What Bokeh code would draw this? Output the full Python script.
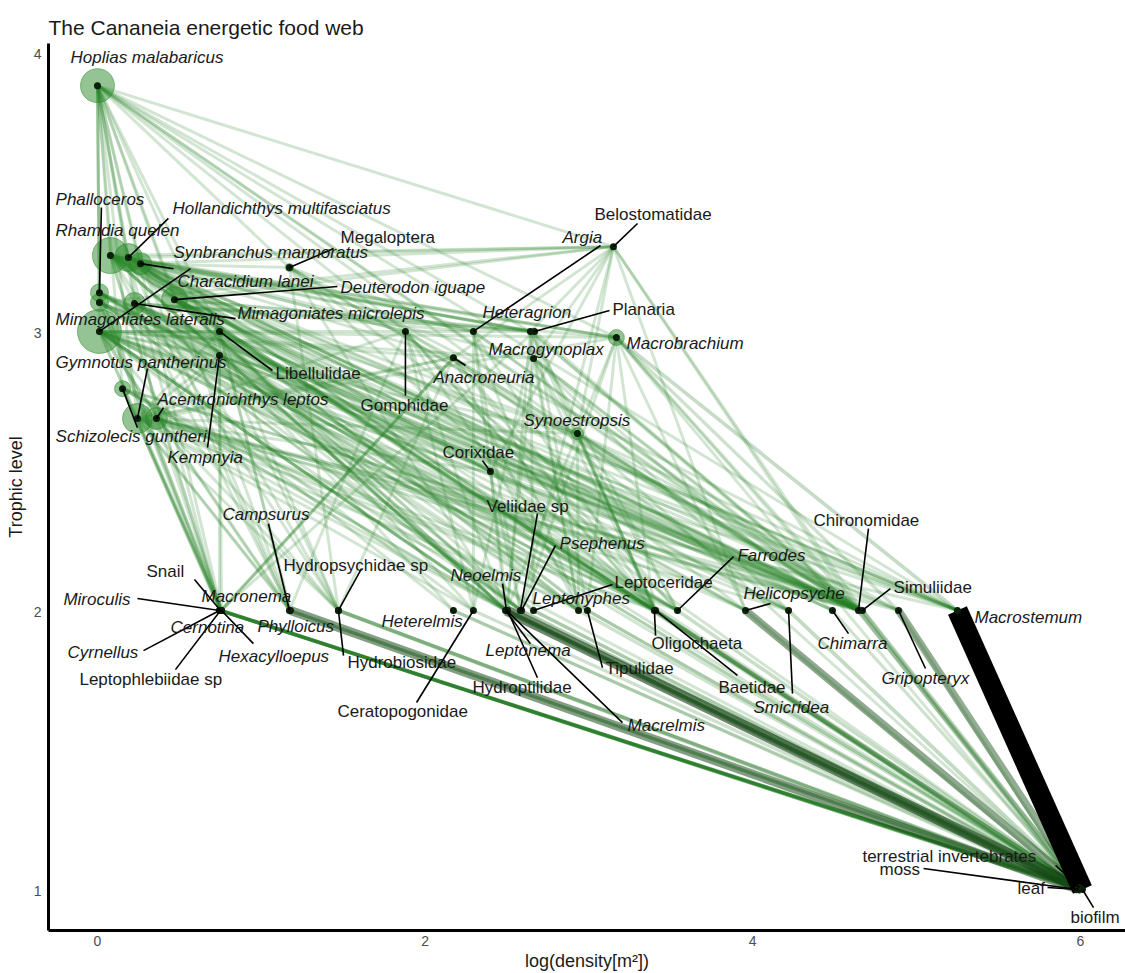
import numpy as np
from bokeh.plotting import figure
from bokeh.models import ColumnDataSource, FixedTicker
from bokeh.core.properties import value
from bokeh.embed import file_html
from bokeh.resources import INLINE

# ---------------- nodes ----------------
node_names = [
    "Hoplias malabaricus", "Rhamdia quelen", "Hollandichthys multifasciatus", "Synbranchus marmoratus",
    "Phalloceros", "Mimagoniates lateralis", "Mimagoniates microlepis", "Deuterodon iguape",
    "Characidium lanei", "Gymnotus pantherinus", "Schizolecis guntheri", "Acentronichthys leptos",
    "Megaloptera", "Libellulidae", "Kempnyia", "Gomphidae", "Belostomatidae", "Argia", "Heteragrion",
    "Planaria", "Macrobrachium", "Anacroneuria", "Macrogynoplax", "Synoestropsis", "Corixidae",
    "Snail", "Miroculis", "Macronema", "Cernotina", "Cyrnellus", "Hexacylloepus", "Leptophlebiidae sp",
    "Campsurus", "Phylloicus", "Hydropsychidae sp", "Hydrobiosidae", "Heterelmis", "Ceratopogonidae",
    "Veliidae sp", "Psephenus", "Neoelmis", "Leptoceridae", "Leptohyphes", "Leptonema", "Hydroptilidae",
    "Macrelmis", "Tipulidae", "Farrodes", "Oligochaeta", "Baetidae", "Helicopsyche", "Smicridea",
    "Chironomidae", "Simuliidae", "Chimarra", "Gripopteryx", "Macrostemum",
    "terrestrial invertebrates", "moss", "leaf", "biofilm",
]
# log(density[m2])
node_x = [
    0.000, 0.079, 0.189, 0.263, 0.012, 0.012, 0.226, 0.470, 0.012, 0.244, 0.153, 0.360,
    1.172, 0.745, 0.745, 1.880, 3.150, 2.295, 2.643, 2.668, 3.168, 2.173, 2.662, 2.930, 2.399,
    0.751, 0.745, 0.757, 0.751, 0.745, 0.757, 0.751,
    1.172, 1.178, 1.471, 1.471, 2.173, 2.295, 2.582, 2.589, 2.497, 2.662, 2.937, 2.491, 2.503,
    2.497, 2.991, 3.541, 3.400, 3.407, 3.956, 4.219, 4.646, 4.670, 4.487, 4.890, 5.250,
    5.995, 5.983, 5.989, 6.013,
]
# trophic level
node_y = [
    3.885, 3.276, 3.269, 3.247, 3.143, 3.108, 3.104, 3.118, 3.004, 2.692, 2.799, 2.692,
    3.233, 3.004, 2.918, 3.004, 3.308, 3.004, 3.004, 3.004, 2.982, 2.910, 2.907, 2.638, 2.502,
    2.004, 2.004, 2.004, 2.004, 2.004, 2.004, 2.004,
    2.004, 2.004, 2.004, 2.004, 2.004, 2.004, 2.004, 2.004, 2.004, 2.004, 2.004, 2.004, 2.004,
    2.004, 2.004, 2.004, 2.004, 2.004, 2.004, 2.004, 2.004, 2.004, 2.004, 2.004, 2.004,
    1.011, 1.004, 1.004, 1.004,
]
# relative biomass (circle area)
node_biomass = [
    2.89, 3.24, 1.96, 1.21, 0.81, 0.81, 1.21, 1.69, 4.84, 2.25, 0.64, 1.21,
    0.16, 0.25, 0.09, 0.04, 0.04, 0.04, 0.04, 0.04, 0.64, 0.09, 0.09, 0.36, 0.04,
    0.09, 0.06, 0.09, 0.04, 0.04, 0.04, 0.06,
    0.06, 0.06, 0.06, 0.04, 0.02, 0.02, 0.04, 0.04, 0.06, 0.02, 0.02, 0.06, 0.04,
    0.04, 0.02, 0.02, 0.04, 0.04, 0.02, 0.02, 0.04, 0.04, 0.02, 0.02, 0.06,
    0.04, 0.04, 0.06, 0.06,
]

# ---------------- labels (repelled positions) ----------------
label_text = [
    "Hoplias  malabaricus", "Rhamdia  quelen", "Hollandichthys  multifasciatus", "Synbranchus  marmoratus",
    "Phalloceros", "Mimagoniates  lateralis", "Mimagoniates  microlepis", "Deuterodon  iguape",
    "Characidium  lanei", "Gymnotus  pantherinus", "Schizolecis  guntheri", "Acentronichthys  leptos",
    "Megaloptera", "Libellulidae", "Kempnyia", "Gomphidae", "Belostomatidae", "Argia", "Heteragrion",
    "Planaria", "Macrobrachium", "Anacroneuria", "Macrogynoplax", "Synoestropsis", "Corixidae",
    "Snail", "Miroculis", "Macronema", "Cernotina", "Cyrnellus", "Hexacylloepus", "Leptophlebiidae  sp",
    "Campsurus", "Phylloicus", "Hydropsychidae  sp", "Hydrobiosidae", "Heterelmis", "Ceratopogonidae",
    "Veliidae  sp", "Psephenus", "Neoelmis", "Leptoceridae", "Leptohyphes", "Leptonema", "Hydroptilidae",
    "Macrelmis", "Tipulidae", "Farrodes", "Oligochaeta", "Baetidae", "Helicopsyche", "Smicridea",
    "Chironomidae", "Simuliidae", "Chimarra", "Gripopteryx", "Macrostemum",
    "terrestrial  invertebrates", "moss", "leaf", "biofilm",
]
label_italic = [
    1, 1, 1, 1, 1, 1, 1, 1, 1, 1, 1, 1,
    0, 0, 1, 0, 0, 1, 1, 0, 1, 1, 1, 1, 0,
    0, 1, 1, 1, 1, 1, 0,
    1, 1, 0, 0, 1, 0, 0, 1, 1, 0, 1, 1, 0,
    1, 0, 1, 0, 0, 1, 1, 0, 0, 1, 1, 1,
    0, 0, 0, 0,
]
label_x = [
    -0.165, -0.256, 0.458, 0.464, -0.256, -0.256, 0.855, 1.484, 0.488, -0.256, -0.256, 0.366,
    1.484, 1.087, 0.427, 1.606, 3.034, 2.839, 2.350, 3.144, 3.230, 2.051, 2.387, 2.601, 2.106,
    0.299, -0.208, 0.635, 0.446, -0.183, 0.739, -0.110,
    0.763, 0.977, 1.136, 1.526, 1.734, 1.465, 2.375, 2.821, 2.155, 3.156, 2.656, 2.369, 2.289,
    3.236, 3.101, 3.907, 3.382, 3.791, 3.944, 4.005, 4.371, 4.860, 4.396, 4.786, 5.354,
    4.670, 4.774, 5.617, 5.940,
]
label_y = [
    3.986, 3.366, 3.444, 3.287, 3.477, 3.047, 3.068, 3.161, 3.183, 2.892, 2.627, 2.760,
    3.341, 2.853, 2.552, 2.738, 3.423, 3.341, 3.072, 3.082, 2.961, 2.839, 2.939, 2.685, 2.570,
    2.143, 2.043, 2.054, 1.943, 1.853, 1.839, 1.756,
    2.348, 1.946, 2.165, 1.817, 1.964, 1.642, 2.376, 2.244, 2.129, 2.104, 2.047, 1.860, 1.728,
    1.591, 1.796, 2.201, 1.885, 1.728, 2.065, 1.656, 2.326, 2.086, 1.885, 1.760, 1.978,
    1.122, 1.075, 1.007, 0.903,
]
N = None
leader_x = [
    N, N, 0.433, 0.464, 0.024, N, 0.843, 1.465, 0.568, 0.305, 0.244, 0.403,
    1.441, 1.068, 0.672, 1.880, 3.297, 3.071, N, 3.126, N, 2.247, N, N, 2.350,
    0.592, 0.244, N, N, 0.281, 0.952, 0.476,
    1.044, N, 1.612, 1.502, N, 1.948, 2.686, 2.796, 2.473, 3.144, N, 2.643, 2.686,
    3.205, 3.083, 3.883, 3.407, 3.907, 4.109, 4.243, 4.707, 4.841, 4.585, 5.055, N,
    5.849, 5.043, 5.800, 6.081,
]
leader_y = [
    N, N, 3.409, 3.229, 3.448, N, 3.050, 3.165, 3.229, 2.871, 2.659, 2.731,
    3.301, 2.864, 2.588, 2.774, 3.391, 3.312, N, 3.079, N, 2.882, N, N, 2.541,
    2.115, 2.047, N, N, 1.860, 1.885, 1.792,
    2.315, N, 2.154, 1.842, N, 1.674, 2.351, 2.237, 2.100, 2.097, N, 1.885, 1.763,
    1.602, 1.799, 2.197, 1.914, 1.771, 2.029, 1.706, 2.297, 2.082, 1.921, 1.796, N,
    1.090, 1.079, 1.011, 0.939,
]

# ---------------- diets (prey of each consumer) ----------------
diet_hoplias = ["Rhamdia quelen", "Hollandichthys multifasciatus", "Synbranchus marmoratus", "Phalloceros",
                "Mimagoniates lateralis", "Mimagoniates microlepis", "Deuterodon iguape", "Characidium lanei",
                "Gymnotus pantherinus", "Schizolecis guntheri", "Acentronichthys leptos", "Belostomatidae",
                "Macrobrachium", "Libellulidae", "Megaloptera", "Gomphidae", "Kempnyia", "Heteragrion",
                "Synoestropsis", "Chironomidae", "Simuliidae", "Macrostemum", "Macronema", "Phylloicus"]
diet_rhamdia = ["Macrobrachium", "Belostomatidae", "Planaria", "Heteragrion", "Argia", "Gomphidae",
                "Libellulidae", "Kempnyia", "Anacroneuria", "Macrogynoplax", "Synoestropsis", "Corixidae",
                "Macronema", "Snail", "Phylloicus", "Hydropsychidae sp", "Neoelmis", "Leptonema", "Macrelmis",
                "Oligochaeta", "Baetidae", "Helicopsyche", "Smicridea", "Chironomidae", "Simuliidae",
                "Gripopteryx", "Macrostemum", "terrestrial invertebrates"]
diet_hollandichthys = ["Belostomatidae", "Heteragrion", "Argia", "Macrobrachium", "Corixidae", "Veliidae sp",
                       "Psephenus", "Leptohyphes", "Baetidae", "Farrodes", "Chironomidae", "Simuliidae",
                       "Macrostemum", "Chimarra", "Smicridea", "terrestrial invertebrates", "Campsurus", "Miroculis"]
diet_synbranchus = ["Macrobrachium", "Planaria", "Gomphidae", "Libellulidae", "Megaloptera", "Oligochaeta",
                    "Chironomidae", "Macrostemum", "Neoelmis", "Hydrobiosidae", "Phylloicus", "Tipulidae",
                    "Belostomatidae"]
diet_phalloceros = ["Chironomidae", "Simuliidae", "Baetidae", "Leptohyphes", "Farrodes", "Corixidae",
                    "Veliidae sp", "Macronema", "Cernotina", "Oligochaeta", "terrestrial invertebrates", "biofilm"]
diet_m_lateralis = ["terrestrial invertebrates", "Chironomidae", "Simuliidae", "Baetidae", "Farrodes",
                    "Leptohyphes", "Veliidae sp", "Corixidae", "Psephenus", "Hexacylloepus", "Miroculis",
                    "Macrostemum", "Belostomatidae"]
diet_m_microlepis = ["terrestrial invertebrates", "Chironomidae", "Simuliidae", "Farrodes", "Baetidae",
                     "Helicopsyche", "Smicridea", "Leptoceridae", "Veliidae sp", "Heteragrion", "Argia",
                     "Macrostemum", "Chimarra", "Planaria"]
diet_deuterodon = ["leaf", "Chironomidae", "Simuliidae", "Macrostemum", "Gripopteryx", "Chimarra",
                   "Helicopsyche", "Leptoceridae", "Tipulidae", "Macrelmis", "Oligochaeta", "Baetidae",
                   "Synoestropsis", "Macrobrachium", "Belostomatidae", "Planaria"]
diet_characidium = ["Chironomidae", "Simuliidae", "Macrostemum", "Gripopteryx", "Smicridea", "Helicopsyche",
                    "Farrodes", "Baetidae", "Oligochaeta", "Leptonema", "Neoelmis", "Macrelmis", "Hydroptilidae",
                    "Psephenus", "Heterelmis", "Ceratopogonidae", "Hydropsychidae sp", "Phylloicus", "Campsurus",
                    "Macronema", "Snail", "Kempnyia", "Anacroneuria", "Macrogynoplax", "Synoestropsis",
                    "Macrobrachium", "Planaria", "Libellulidae"]
diet_gymnotus = ["Macrobrachium", "Anacroneuria", "Kempnyia", "Gomphidae", "Libellulidae", "Oligochaeta",
                 "Chironomidae", "Macrostemum", "Phylloicus", "Campsurus", "Hydrobiosidae", "Leptonema",
                 "Tipulidae", "Ceratopogonidae", "Synoestropsis", "Corixidae"]
diet_schizolecis = ["biofilm", "Chironomidae", "Simuliidae", "Macronema", "Leptophlebiidae sp", "Cyrnellus",
                    "Hydroptilidae", "Neoelmis", "Leptohyphes"]
diet_acentronichthys = ["Chironomidae", "Simuliidae", "Gripopteryx", "Smicridea", "Hydropsychidae sp",
                        "Macronema", "Leptonema", "Baetidae", "Farrodes", "Anacroneuria", "Kempnyia"]
diet_belostomatidae = ["Heteragrion", "Macrogynoplax", "Synoestropsis", "Chironomidae", "Simuliidae",
                       "Corixidae", "Veliidae sp", "Anacroneuria", "Helicopsyche"]
diet_megaloptera = ["Chironomidae", "Simuliidae", "Macrostemum", "Hydropsychidae sp", "Leptonema", "Baetidae",
                    "Helicopsyche", "Argia"]
diet_libellulidae = ["Chironomidae", "Baetidae", "Farrodes", "Leptohyphes", "Macronema", "Phylloicus",
                     "Campsurus", "Hydrobiosidae", "Ceratopogonidae", "Simuliidae"]
diet_kempnyia = ["Chironomidae", "Simuliidae", "Baetidae", "Miroculis", "Hydropsychidae sp", "Heterelmis",
                 "Leptohyphes", "Neoelmis"]
diet_gomphidae = ["Chironomidae", "Baetidae", "Farrodes", "Oligochaeta", "Campsurus", "Ceratopogonidae",
                  "Tipulidae", "Leptonema", "Anacroneuria"]
diet_argia = ["Chironomidae", "Simuliidae", "Baetidae", "Leptohyphes", "Veliidae sp", "Ceratopogonidae",
              "Hydroptilidae"]
diet_heteragrion = ["Chironomidae", "Simuliidae", "Baetidae", "Farrodes", "Leptohyphes", "Hydroptilidae",
                    "Leptoceridae"]
diet_planaria = ["Oligochaeta", "Chironomidae", "Tipulidae", "Snail", "Ceratopogonidae"]
diet_macrobrachium = ["Macrostemum", "Gripopteryx", "Chironomidae", "Simuliidae", "leaf", "Helicopsyche",
                      "Oligochaeta", "Tipulidae", "Synoestropsis", "Psephenus"]
diet_anacroneuria = ["Chironomidae", "Simuliidae", "Baetidae", "Farrodes", "Leptohyphes", "Hydropsychidae sp",
                     "Smicridea", "Macronema", "Leptophlebiidae sp", "Hexacylloepus"]
diet_macrogynoplax = ["Chironomidae", "Simuliidae", "Baetidae", "Farrodes", "Leptohyphes", "Smicridea",
                      "Chimarra", "Neoelmis"]
diet_synoestropsis = ["Chironomidae", "Simuliidae", "Baetidae", "Leptohyphes", "Oligochaeta", "Macrostemum",
                      "Gripopteryx", "biofilm", "Neoelmis"]
diet_corixidae = ["biofilm", "Chironomidae", "Oligochaeta", "Leptonema", "Veliidae sp"]

consumers = ["Hoplias malabaricus", "Rhamdia quelen", "Hollandichthys multifasciatus", "Synbranchus marmoratus",
             "Phalloceros", "Mimagoniates lateralis", "Mimagoniates microlepis", "Deuterodon iguape",
             "Characidium lanei", "Gymnotus pantherinus", "Schizolecis guntheri", "Acentronichthys leptos",
             "Belostomatidae", "Megaloptera", "Libellulidae", "Kempnyia", "Gomphidae", "Argia", "Heteragrion",
             "Planaria", "Macrobrachium", "Anacroneuria", "Macrogynoplax", "Synoestropsis", "Corixidae"]
consumer_diets = [diet_hoplias, diet_rhamdia, diet_hollandichthys, diet_synbranchus, diet_phalloceros,
                  diet_m_lateralis, diet_m_microlepis, diet_deuterodon, diet_characidium, diet_gymnotus,
                  diet_schizolecis, diet_acentronichthys, diet_belostomatidae, diet_megaloptera,
                  diet_libellulidae, diet_kempnyia, diet_gomphidae, diet_argia, diet_heteragrion, diet_planaria,
                  diet_macrobrachium, diet_anacroneuria, diet_macrogynoplax, diet_synoestropsis, diet_corixidae]

# primary consumers feed on biofilm; shredders also on leaf litter
primary_consumers = node_names[25:57]
leaf_shredders = ["Snail", "Macronema", "Leptophlebiidae sp", "Campsurus", "Phylloicus", "Hydrobiosidae",
                  "Heterelmis", "Neoelmis", "Leptonema", "Macrelmis", "Leptoceridae", "Tipulidae",
                  "Oligochaeta", "Baetidae", "Helicopsyche", "Chironomidae", "Simuliidae", "Gripopteryx"]

# relative energy fluxes of the strongest links (others = default_flux)
default_flux = 0.02
basal_flux = 0.035
strong_prey = ["biofilm", "biofilm", "leaf", "biofilm", "biofilm", "leaf", "biofilm", "biofilm",
               "biofilm", "biofilm", "biofilm", "leaf", "biofilm", "leaf", "biofilm", "leaf", "biofilm",
               "Macrostemum", "Gripopteryx", "biofilm", "moss"]
strong_pred = ["Macrostemum", "Neoelmis", "Phylloicus", "Gripopteryx", "Helicopsyche", "Leptonema",
               "Chironomidae", "Simuliidae", "Oligochaeta", "Baetidae", "Smicridea", "Hydrobiosidae",
               "Macronema", "Snail", "Hydropsychidae sp", "Macrelmis", "Hydroptilidae",
               "Macrobrachium", "Macrobrachium", "Farrodes", "Leptophlebiidae sp"]
strong_flux = [1.0, 0.45, 0.35, 0.28, 0.30, 0.14, 0.11, 0.10, 0.12, 0.09, 0.07, 0.08,
               0.07, 0.05, 0.06, 0.08, 0.06, 0.06, 0.04, 0.05, 0.05]

# ---------------- build links ----------------
idx = {n: i for i, n in enumerate(node_names)}
links = {}
for cons, diet in zip(consumers, consumer_diets):
    for prey in diet:
        links[(prey, cons)] = default_flux
for cons in primary_consumers:
    links[("biofilm", cons)] = basal_flux
    if cons in leaf_shredders:
        links[("leaf", cons)] = basal_flux
for a, b, f in zip(strong_prey, strong_pred, strong_flux):
    links[(a, b)] = f

items = sorted(links.items(), key=lambda kv: kv[1])
green = np.array([42, 138, 42], dtype=float)
x0, y0, x1, y1, cols, alphas, widths = [], [], [], [], [], [], []
for (a, b), f in items:
    ia, ib = idx[a], idx[b]
    x0.append(node_x[ia]); y0.append(node_y[ia])
    x1.append(node_x[ib]); y1.append(node_y[ib])
    m = f ** 0.7
    c = green * (1 - m)
    cols.append("#%02x%02x%02x" % tuple(int(round(v)) for v in c))
    alphas.append(min(1.0, 0.17 + 0.83 * f ** 0.8))
    widths.append(2.6 + 18.0 * f)

edge_src = ColumnDataSource(dict(x0=x0, y0=y0, x1=x1, y1=y1, c=cols, a=alphas, w=widths))

# ---------------- figure ----------------
p = figure(width=1125, height=973, x_range=(-0.299, 6.276), y_range=(0.857, 4.036),
           output_backend="svg", toolbar_location=None,
           min_border_left=48, min_border_right=0, min_border_top=43, min_border_bottom=43,
           title="The Cananeia energetic food web")
p.title.text_font = "Liberation Sans"
p.title.text_font_size = "21px"
p.title.text_font_style = "normal"
p.title.text_color = "#1a1a1a"
p.title.align = "left"
p.outline_line_color = None
p.grid.visible = False
p.background_fill_color = "white"
p.border_fill_color = "white"

for ax in (p.xaxis[0], p.yaxis[0]):
    ax.axis_line_width = 3
    ax.axis_line_color = "black"
    ax.major_tick_out = 0
    ax.major_tick_in = 0
    ax.minor_tick_out = 0
    ax.minor_tick_in = 0
    ax.major_label_text_font = "Liberation Sans"
    ax.major_label_text_font_size = "14px"
    ax.major_label_text_color = "#4d4d4d"
    ax.axis_label_text_font = "Liberation Sans"
    ax.axis_label_text_font_size = "18px"
    ax.axis_label_text_font_style = "normal"
    ax.axis_label_text_color = "#1a1a1a"
p.xaxis.ticker = FixedTicker(ticks=[0, 2, 4, 6])
p.yaxis.ticker = FixedTicker(ticks=[1, 2, 3, 4])
p.xaxis.axis_label = "log(density[m²])"
p.yaxis.axis_label = "Trophic level"
p.xaxis.major_label_standoff = 5
p.xaxis.axis_label_standoff = 2
p.yaxis.major_label_standoff = 7
p.yaxis.axis_label_standoff = 5

# links
p.segment(x0="x0", y0="y0", x1="x1", y1="y1", line_color="c", line_alpha="a", line_width="w",
          line_cap="butt", source=edge_src)

# nodes
node_src = ColumnDataSource(dict(x=node_x, y=node_y,
                                 s=[20.0 * np.sqrt(b) for b in node_biomass]))
p.scatter(x="x", y="y", size="s", marker="circle", fill_color="#2a8a2a", fill_alpha=0.5,
          line_color="#2a8a2a", line_alpha=0.5, line_width=1, source=node_src)
p.scatter(x="x", y="y", size=7, marker="circle", fill_color="#0b1f0b", line_color=None, source=node_src)

# leader segments
lx0, ly0, lx1, ly1 = [], [], [], []
for i in range(len(node_names)):
    if leader_x[i] is not None:
        lx0.append(leader_x[i]); ly0.append(leader_y[i])
        lx1.append(node_x[i]); ly1.append(node_y[i])
p.segment(x0=lx0, y0=ly0, x1=lx1, y1=ly1, line_color="black", line_width=1.6)

# labels
for style, flag in (("italic", 1), ("normal", 0)):
    sel = [i for i in range(len(label_text)) if label_italic[i] == flag]
    src = ColumnDataSource(dict(x=[label_x[i] for i in sel], y=[label_y[i] for i in sel],
                                t=[label_text[i] for i in sel]))
    p.text(x="x", y="y", text="t", source=src, text_font=value("Liberation Sans"),
           text_font_size="17px", text_font_style=style, text_color="#1a1a1a",
           text_align="left", text_baseline="middle")

open("out.html", "w").write(file_html(p, INLINE))
